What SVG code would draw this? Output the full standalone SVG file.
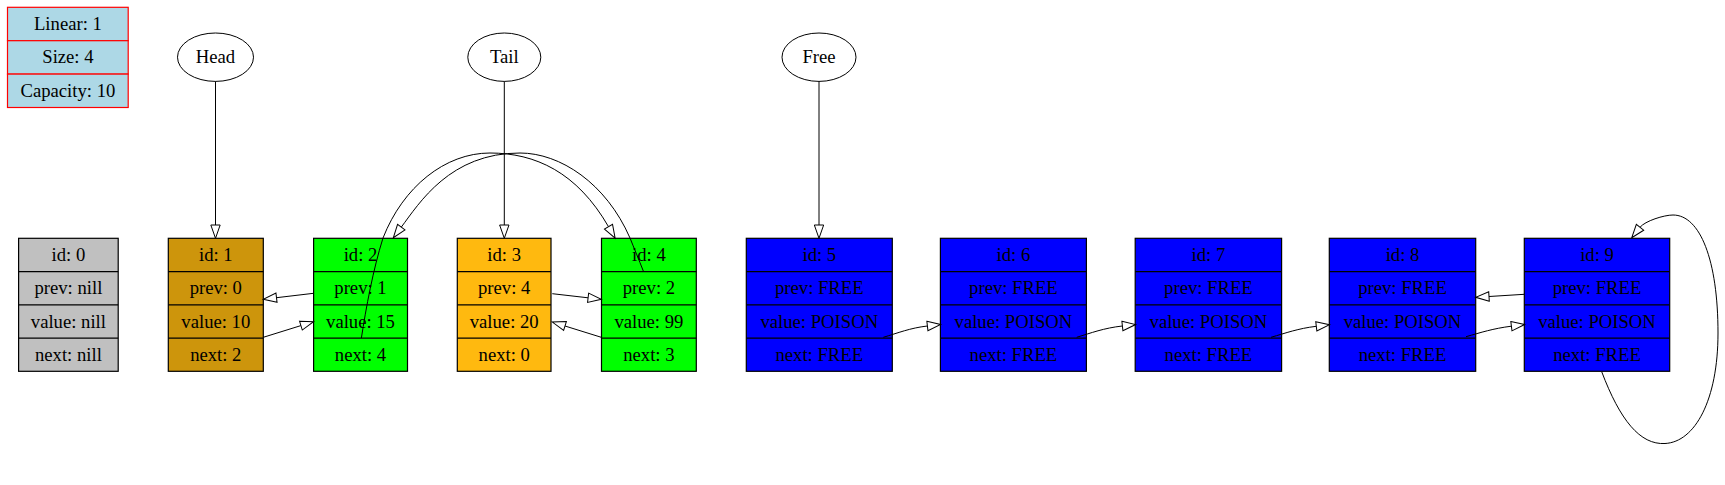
<svg xmlns="http://www.w3.org/2000/svg" width="1725" height="485" viewBox="0 0 1725 485">
<style>
text{font-family:"Liberation Serif","Times New Roman",serif;font-size:18.67px;text-anchor:middle;fill:#000}
.cell{stroke:#000;stroke-width:1.2}
.info{fill:#add8e6;stroke:#ff0000;stroke-width:1.2}
.edge{fill:none;stroke:#000;stroke-width:1}
.ell{fill:#fff;stroke:#000;stroke-width:1}
</style>
<defs>
<marker id="ah" markerUnits="userSpaceOnUse" markerWidth="16" markerHeight="12" viewBox="-1 -1 16 12" refX="0" refY="4.67" orient="auto" overflow="visible">
<path d="M0,0 L13.3,4.67 L0,9.33 Z" fill="#fff" stroke="#000" stroke-width="1"/>
</marker>
</defs>
<rect width="1725" height="485" fill="#fff"/>

<g id="info">
<rect class="info" x="7.5" y="7.3" width="120.7" height="33.4"/>
<rect class="info" x="7.5" y="40.7" width="120.7" height="33.4"/>
<rect class="info" x="7.5" y="74.1" width="120.7" height="33.4"/>
<text x="67.9" y="30">Linear: 1</text>
<text x="67.9" y="63.4">Size: 4</text>
<text x="67.9" y="96.8">Capacity: 10</text>
</g>

<g id="head"><ellipse class="ell" cx="215.5" cy="57.2" rx="38" ry="24.2"/><text x="215.5" y="63.2">Head</text></g>
<g id="tail"><ellipse class="ell" cx="504.3" cy="57.2" rx="36.5" ry="24.2"/><text x="504.3" y="63.2">Tail</text></g>
<g id="free"><ellipse class="ell" cx="819" cy="57.2" rx="37" ry="24.2"/><text x="819" y="63.2">Free</text></g>

<g id="node0">
<rect class="cell" x="18.6" y="238.3" width="99.6" height="133" fill="#c0c0c0"/>
<path class="cell" d="M18.6,271.55H118.2M18.6,304.8H118.2M18.6,338.05H118.2"/>
<text x="68.4" y="261">id: 0</text><text x="68.4" y="294.2">prev: nill</text><text x="68.4" y="327.5">value: nill</text><text x="68.4" y="360.7">next: nill</text>
</g>
<g id="node1">
<rect class="cell" x="168.3" y="238.3" width="95" height="133" fill="#cd950c"/>
<path class="cell" d="M168.3,271.55H263.3M168.3,304.8H263.3M168.3,338.05H263.3"/>
<text x="215.8" y="261">id: 1</text><text x="215.8" y="294.2">prev: 0</text><text x="215.8" y="327.5">value: 10</text><text x="215.8" y="360.7">next: 2</text>
</g>
<g id="node2">
<rect class="cell" x="313.6" y="238.3" width="93.9" height="133" fill="#00ff00"/>
<path class="cell" d="M313.6,271.55H407.5M313.6,304.8H407.5M313.6,338.05H407.5"/>
<text x="360.5" y="261">id: 2</text><text x="360.5" y="294.2">prev: 1</text><text x="360.5" y="327.5">value: 15</text><text x="360.5" y="360.7">next: 4</text>
</g>
<g id="node3">
<rect class="cell" x="457.3" y="238.3" width="93.7" height="133" fill="#ffb90f"/>
<path class="cell" d="M457.3,271.55H551M457.3,304.8H551M457.3,338.05H551"/>
<text x="504.2" y="261">id: 3</text><text x="504.2" y="294.2">prev: 4</text><text x="504.2" y="327.5">value: 20</text><text x="504.2" y="360.7">next: 0</text>
</g>
<g id="node4">
<rect class="cell" x="601.5" y="238.3" width="94.8" height="133" fill="#00ff00"/>
<path class="cell" d="M601.5,271.55H696.3M601.5,304.8H696.3M601.5,338.05H696.3"/>
<text x="648.9" y="261">id: 4</text><text x="648.9" y="294.2">prev: 2</text><text x="648.9" y="327.5">value: 99</text><text x="648.9" y="360.7">next: 3</text>
</g>
<g id="node5">
<rect class="cell" x="746.3" y="238.3" width="146" height="133" fill="#0000ff"/>
<path class="cell" d="M746.3,271.55H892.3M746.3,304.8H892.3M746.3,338.05H892.3"/>
<text x="819.3" y="261">id: 5</text><text x="819.3" y="294.2">prev: FREE</text><text x="819.3" y="327.5">value: POISON</text><text x="819.3" y="360.7">next: FREE</text>
</g>
<g id="node6">
<rect class="cell" x="940.4" y="238.3" width="146" height="133" fill="#0000ff"/>
<path class="cell" d="M940.4,271.55H1086.4M940.4,304.8H1086.4M940.4,338.05H1086.4"/>
<text x="1013.4" y="261">id: 6</text><text x="1013.4" y="294.2">prev: FREE</text><text x="1013.4" y="327.5">value: POISON</text><text x="1013.4" y="360.7">next: FREE</text>
</g>
<g id="node7">
<rect class="cell" x="1135.2" y="238.3" width="146.4" height="133" fill="#0000ff"/>
<path class="cell" d="M1135.2,271.55H1281.6M1135.2,304.8H1281.6M1135.2,338.05H1281.6"/>
<text x="1208.4" y="261">id: 7</text><text x="1208.4" y="294.2">prev: FREE</text><text x="1208.4" y="327.5">value: POISON</text><text x="1208.4" y="360.7">next: FREE</text>
</g>
<g id="node8">
<rect class="cell" x="1329.3" y="238.3" width="146.4" height="133" fill="#0000ff"/>
<path class="cell" d="M1329.3,271.55H1475.7M1329.3,304.8H1475.7M1329.3,338.05H1475.7"/>
<text x="1402.5" y="261">id: 8</text><text x="1402.5" y="294.2">prev: FREE</text><text x="1402.5" y="327.5">value: POISON</text><text x="1402.5" y="360.7">next: FREE</text>
</g>
<g id="node9">
<rect class="cell" x="1524.3" y="238.3" width="145.4" height="133" fill="#0000ff"/>
<path class="cell" d="M1524.3,271.55H1669.7M1524.3,304.8H1669.7M1524.3,338.05H1669.7"/>
<text x="1597" y="261">id: 9</text><text x="1597" y="294.2">prev: FREE</text><text x="1597" y="327.5">value: POISON</text><text x="1597" y="360.7">next: FREE</text>
</g>

<g id="connectors">
<path class="edge" marker-end="url(#ah)" d="M215.5,81.4V225"/>
<path class="edge" marker-end="url(#ah)" d="M504.3,81.4V225"/>
<path class="edge" marker-end="url(#ah)" d="M819,81.4V225"/>
<path class="edge" marker-end="url(#ah)" d="M313.6,293.3L276.5,297.7"/>
<path class="edge" marker-end="url(#ah)" d="M263.3,337.3L300.9,325.6"/>
<path class="edge" marker-end="url(#ah)" d="M552.3,293.7L588.1,297.8"/>
<path class="edge" marker-end="url(#ah)" d="M601.3,337.3L565,326"/>
<path class="edge" marker-end="url(#ah)" d="M1524.3,294.3L1489,296.5"/>
<path class="edge" marker-end="url(#ah)" d="M883.3,337.3C898,333 910,328 927.4,326"/>
<path class="edge" marker-end="url(#ah)" d="M1076.7,337.3C1091,333 1104,328 1122.4,326"/>
<path class="edge" marker-end="url(#ah)" d="M1271,337.3C1286,333 1298,328.5 1316.3,326.3"/>
<path class="edge" marker-end="url(#ah)" d="M1466,336.7C1481,332.5 1493,328.5 1511.4,326.2"/>
<path class="edge" marker-end="url(#ah)" d="M361.4,338C366,308 373,270 383,238C403,187 445,153 490,153C535,153 577,172 608.5,226.7"/>
<path class="edge" marker-end="url(#ah)" d="M643.3,271C639,260 634,248 630,238C606,183 560,153 520,153C450,153 419.3,203.1 401.3,227.1"/>
<path class="edge" marker-end="url(#ah)" d="M1601.7,371.7C1620,420 1640,445 1665,443.5C1695,442 1718,400 1718,333C1718,260 1700,215 1673,215C1664,215 1645,221 1640,227.3"/>
</g>
</svg>
